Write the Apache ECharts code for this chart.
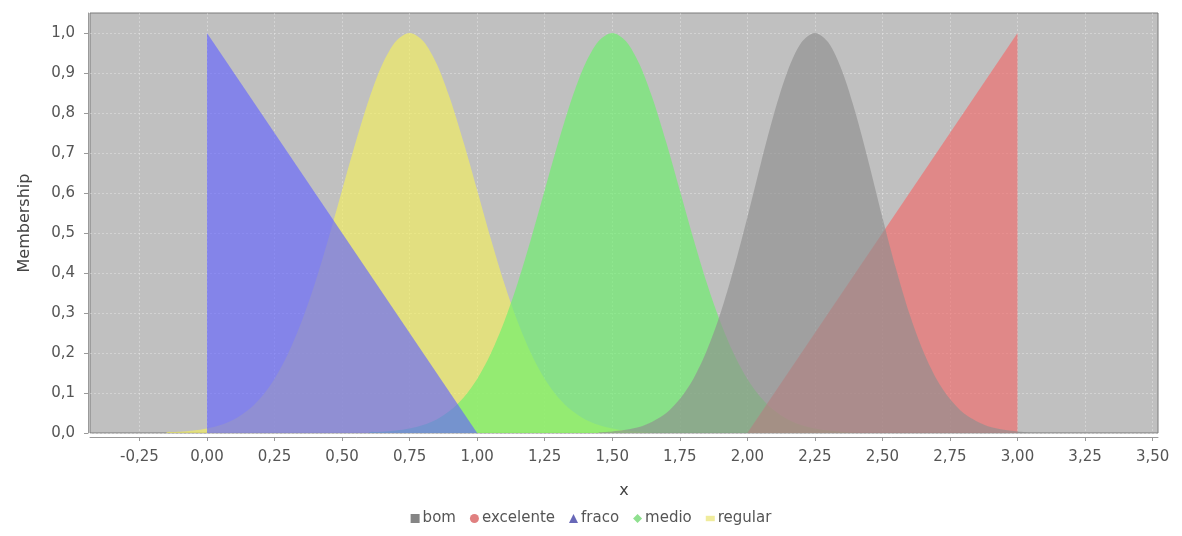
<!DOCTYPE html>
<html>
<head>
<meta charset="utf-8">
<script src="https://cdn.jsdelivr.net/npm/echarts@6/dist/echarts.min.js"></script>
<style>
  html, body { margin: 0; padding: 0; background: #ffffff; }
  #chart { width: 1182px; height: 536px; }
</style>
</head>
<body>
<div id="chart"></div>
<script>
// ---- data ----
const xTicks = [-0.25, 0, 0.25, 0.5, 0.75, 1, 1.25, 1.5, 1.75, 2, 2.25, 2.5, 2.75, 3, 3.25, 3.5];
const yTicks = [0, 0.1, 0.2, 0.3, 0.4, 0.5, 0.6, 0.7, 0.8, 0.9, 1.0];

// fraco: triangle (blue)
const fracoX = [0, 0, 1];
const fracoY = [0, 1, 0];

// excelente: triangle (red)
const excelenteX = [2, 3, 3];
const excelenteY = [0, 1, 0];

// regular: bell around 0.75 (yellow)
const regularX = [-0.15, -0.1, -0.05, 0, 0.05, 0.1, 0.15, 0.2, 0.25, 0.3, 0.35, 0.4, 0.45, 0.5, 0.55, 0.6, 0.65, 0.7, 0.75,
                  0.8, 0.85, 0.9, 0.95, 1.0, 1.05, 1.1, 1.15, 1.2, 1.25, 1.3, 1.35, 1.4, 1.45, 1.5, 1.55, 1.6, 1.65];
const regularY = [0.002, 0.003, 0.006, 0.011, 0.020, 0.034, 0.056, 0.089, 0.135, 0.198, 0.278, 0.375, 0.487, 0.607, 0.726, 0.835, 0.923, 0.980, 1.0,
                  0.980, 0.923, 0.835, 0.726, 0.607, 0.487, 0.375, 0.278, 0.198, 0.135, 0.089, 0.056, 0.034, 0.020, 0.011, 0.006, 0.003, 0.002];

// medio: bell around 1.5 (green)
const medioX = [0.6, 0.65, 0.7, 0.75, 0.8, 0.85, 0.9, 0.95, 1.0, 1.05, 1.1, 1.15, 1.2, 1.25, 1.3, 1.35, 1.4, 1.45, 1.5,
                1.55, 1.6, 1.65, 1.7, 1.75, 1.8, 1.85, 1.9, 1.95, 2.0, 2.05, 2.1, 2.15, 2.2, 2.25, 2.3, 2.35, 2.4];
const medioY = [0.002, 0.003, 0.006, 0.011, 0.020, 0.034, 0.056, 0.089, 0.135, 0.198, 0.278, 0.375, 0.487, 0.607, 0.726, 0.835, 0.923, 0.980, 1.0,
                0.980, 0.923, 0.835, 0.726, 0.607, 0.487, 0.375, 0.278, 0.198, 0.135, 0.089, 0.056, 0.034, 0.020, 0.011, 0.006, 0.003, 0.002];

// bom: bell around 2.25 (gray)
const bomX = [1.45, 1.5, 1.55, 1.6, 1.65, 1.7, 1.75, 1.8, 1.85, 1.9, 1.95, 2.0, 2.05, 2.1, 2.15, 2.2, 2.25,
              2.3, 2.35, 2.4, 2.45, 2.5, 2.55, 2.6, 2.65, 2.7, 2.75, 2.8, 2.85, 2.9, 2.95, 3.0, 3.05];
const bomY = [0.002, 0.004, 0.008, 0.015, 0.029, 0.050, 0.085, 0.135, 0.206, 0.298, 0.411, 0.539, 0.674, 0.801, 0.906, 0.976, 1.0,
              0.976, 0.906, 0.801, 0.674, 0.539, 0.411, 0.298, 0.206, 0.135, 0.085, 0.050, 0.029, 0.015, 0.008, 0.004, 0.002];

const seriesNames = ['bom', 'excelente', 'fraco', 'medio', 'regular'];

function pairs(xs, ys) { return xs.map((x, i) => [x, ys[i]]); }

const FONT = 'DejaVu Sans';

function areaSeries(name, xs, ys, fill, solid, smooth, z) {
  return {
    name: name,
    type: 'line',
    data: pairs(xs, ys),
    symbol: 'none',
    smooth: smooth ? 0.3 : false,
    lineStyle: { width: 0, color: fill },
    itemStyle: { color: solid },
    areaStyle: { color: fill, opacity: 1 },
    z: z
  };
}

const chart = echarts.init(document.getElementById('chart'), null, { renderer: 'canvas' });
chart.setOption({
  animation: false,
  backgroundColor: '#ffffff',
  grid: {
    left: 90, right: 24, top: 13, bottom: 103,
    show: true,
    backgroundColor: '#c0c0c0',
    borderColor: '#7a7a7a',
    borderWidth: 1
  },
  legend: {
    bottom: 5,
    left: 'center',
    itemWidth: 9,
    itemHeight: 9,
    itemGap: 14,
    textStyle: { fontFamily: FONT, fontSize: 15, color: '#555555', padding: [0, 0, 0, -2] },
    data: [
      { name: 'bom', icon: 'rect', itemStyle: { color: '#858585' } },
      { name: 'excelente', icon: 'circle', itemStyle: { color: '#e08080' } },
      { name: 'fraco', icon: 'triangle', itemStyle: { color: '#6868b8' } },
      { name: 'medio', icon: 'diamond', itemStyle: { color: '#8fe08f' } },
      { name: 'regular', icon: 'path://M0,0L20,0L20,12L0,12Z', itemStyle: { color: '#f0ec9c' } }
    ]
  },
  xAxis: {
    type: 'value',
    min: -0.433,
    max: 3.52,
    offset: 4,
    name: 'x',
    nameLocation: 'middle',
    nameGap: 46,
    nameTextStyle: { fontFamily: FONT, fontSize: 16, color: '#444444' },
    axisLine: { show: true, onZero: false, lineStyle: { color: '#9a9a9a', width: 1 } },
    axisTick: { show: true, length: 4, customValues: xTicks, lineStyle: { color: '#9a9a9a' } },
    axisLabel: {
      customValues: xTicks,
      margin: 13,
      fontFamily: FONT, fontSize: 15, color: '#555555',
      formatter: v => v.toFixed(2).replace('.', ',')
    },
    splitLine: { show: true, lineStyle: { color: 'rgba(255,255,255,0.3)', width: 1, type: [2, 2] } }
  },
  yAxis: {
    type: 'value',
    min: 0,
    max: 1.05,
    offset: 2,
    name: 'Membership',
    nameLocation: 'middle',
    nameGap: 55,
    nameTextStyle: { fontFamily: FONT, fontSize: 16, color: '#444444' },
    axisLine: { show: true, onZero: false, lineStyle: { color: '#9a9a9a', width: 1 } },
    axisTick: { show: true, length: 4, customValues: yTicks, lineStyle: { color: '#9a9a9a' } },
    axisLabel: {
      customValues: yTicks,
      margin: 13,
      fontFamily: FONT, fontSize: 15, color: '#555555',
      formatter: v => v.toFixed(1).replace('.', ',')
    },
    splitLine: { show: true, lineStyle: { color: 'rgba(255,255,255,0.3)', width: 1, type: [2, 2] } }
  },
  series: [
    areaSeries('regular', regularX, regularY, 'rgba(245,240,94,0.65)', '#f0ec9c', true, 1),
    areaSeries('medio', medioX, medioY, 'rgba(106,241,106,0.65)', '#8fe08f', true, 2),
    areaSeries('fraco', fracoX, fracoY, 'rgba(100,100,255,0.65)', '#6868b8', false, 3),
    areaSeries('excelente', excelenteX, excelenteY, 'rgba(241,106,106,0.65)', '#e08080', false, 4),
    areaSeries('bom', bomX, bomY, 'rgba(143,143,143,0.65)', '#858585', true, 5)
  ]
});
</script>
</body>
</html>
